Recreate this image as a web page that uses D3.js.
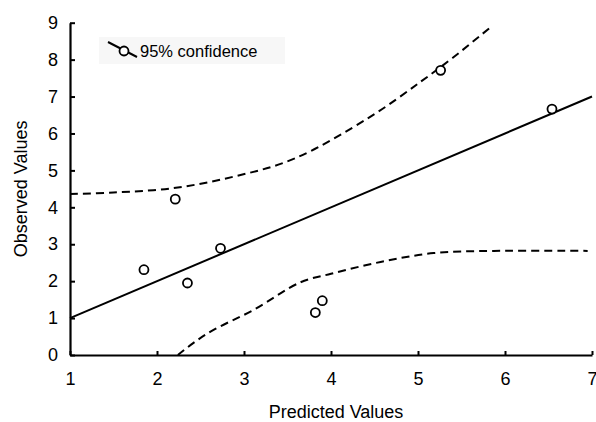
<!DOCTYPE html>
<html>
<head>
<meta charset="utf-8">
<script src="https://cdn.jsdelivr.net/npm/d3@7"></script>
<style>
  body { margin: 0; background: #fff; }
  svg { display: block; font-family: "Liberation Sans", Arial, sans-serif; }
</style>
</head>
<body>
<svg width="596" height="422"></svg>
<script>
// observed vs predicted points
const predicted = [1.85, 2.21, 2.35, 2.73, 3.82, 3.90, 5.26, 6.54];
const observed = [2.31, 4.22, 1.95, 2.89, 1.15, 1.47, 7.71, 6.66];

// fitted line
const fitX = [1, 7];
const fitY = [1, 7];

// 95% confidence band
const upperX = [1, 1.5, 2.19, 2.88, 3.57, 4.45, 5.03, 5.40, 5.84];
const upperY = [4.36, 4.4, 4.52, 4.83, 5.31, 6.45, 7.40, 8.05, 8.89];
const lowerX = [2.24, 2.42, 2.65, 3.11, 3.65, 4.0, 4.57, 5.18, 5.87, 6.95];
const lowerY = [0, 0.33, 0.68, 1.22, 1.97, 2.2, 2.52, 2.76, 2.82, 2.82];

const xTicks = [1, 2, 3, 4, 5, 6, 7];
const yTicks = [0, 1, 2, 3, 4, 5, 6, 7, 8, 9];

const plotLeft = 70, plotRight = 592, plotTop = 22.7, plotBottom = 355;

const svg = d3.select("svg");

const x = d3.scaleLinear().domain([1, 7]).range([plotLeft, plotRight]);
const y = d3.scaleLinear().domain([0, 9]).range([plotBottom, plotTop]);

const xAxis = svg.append("g")
    .attr("transform", `translate(0,${plotBottom})`)
    .call(d3.axisBottom(x).tickValues(xTicks).tickFormat(d3.format("d"))
        .tickSizeInner(-4).tickSizeOuter(0).tickPadding(17));

const yAxis = svg.append("g")
    .attr("transform", `translate(${plotLeft},0)`)
    .call(d3.axisLeft(y).tickValues(yTicks).tickFormat(d3.format("d"))
        .tickSizeInner(-5).tickSizeOuter(0).tickPadding(12));

[xAxis, yAxis].forEach(a => {
    a.select(".domain").attr("stroke", "#000").attr("stroke-width", 2.2);
    a.selectAll(".tick line").attr("stroke", "#000").attr("stroke-width", 2);
    a.selectAll(".tick text")
        .attr("fill", "#000")
        .style("font-size", "18px")
        .style("font-family", "'Liberation Sans', Arial, sans-serif");
});

// axis titles
svg.append("text")
    .attr("x", 336)
    .attr("y", 418)
    .attr("text-anchor", "middle")
    .style("font-size", "18px")
    .text("Predicted Values");

svg.append("text")
    .attr("transform", `translate(27,${(plotTop + plotBottom) / 2}) rotate(-90)`)
    .attr("text-anchor", "middle")
    .style("font-size", "18px")
    .text("Observed Values");

const line = d3.line()
    .x(d => x(d[0]))
    .y(d => y(d[1]));

const curve = d3.line()
    .x(d => x(d[0]))
    .y(d => y(d[1]))
    .curve(d3.curveCatmullRom);

svg.append("path")
    .datum(d3.zip(fitX, fitY))
    .attr("d", line)
    .attr("fill", "none")
    .attr("stroke", "#000")
    .attr("stroke-width", 2);

[[upperX, upperY], [lowerX, lowerY]].forEach(([xs, ys]) => {
    svg.append("path")
        .datum(d3.zip(xs, ys))
        .attr("d", curve)
        .attr("fill", "none")
        .attr("stroke", "#000")
        .attr("stroke-width", 2)
        .attr("stroke-dasharray", "8,5");
});

svg.append("g")
    .selectAll("circle")
    .data(d3.zip(predicted, observed))
    .enter().append("circle")
    .attr("cx", d => x(d[0]))
    .attr("cy", d => y(d[1]))
    .attr("r", 4.5)
    .attr("fill", "#fff")
    .attr("stroke", "#000")
    .attr("stroke-width", 1.8);

// legend
const legend = svg.append("g");
legend.append("rect")
    .attr("x", 99).attr("y", 37)
    .attr("width", 186).attr("height", 27)
    .attr("fill", "#f7f7f7");
legend.append("line")
    .attr("x1", 108).attr("y1", 42)
    .attr("x2", 137).attr("y2", 57)
    .attr("stroke", "#000").attr("stroke-width", 2);
legend.append("circle")
    .attr("cx", 124).attr("cy", 51).attr("r", 4.5)
    .attr("fill", "#fff").attr("stroke", "#000").attr("stroke-width", 1.8);
legend.append("text")
    .attr("x", 140).attr("y", 57)
    .style("font-size", "16.5px")
    .text("95% confidence");
</script>
</body>
</html>
